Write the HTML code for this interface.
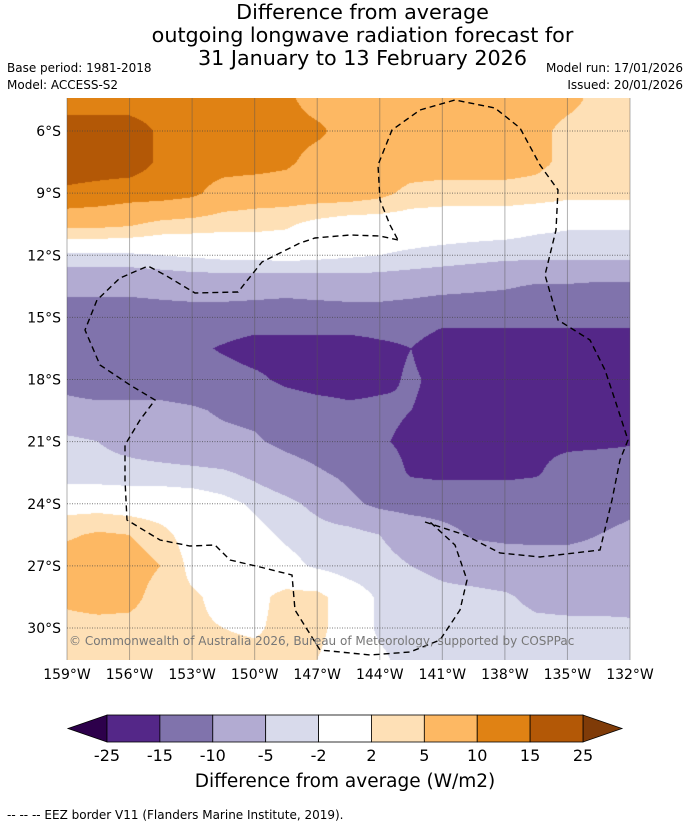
<!DOCTYPE html>
<html><head><meta charset="utf-8">
<style>
body{margin:0;background:#fff;width:690px;height:827px;position:relative;overflow:hidden;font-family:"DejaVu Sans","Liberation Sans",sans-serif;color:#000}
.t{position:absolute;white-space:nowrap}
</style></head><body>
<div class="t" style="left:0;width:725px;top:1px;text-align:center;font-size:20.7px;line-height:23px">Difference from average<br>outgoing longwave radiation forecast for<br>31 January to 13 February 2026</div>
<div class="t" style="left:7px;top:61px;font-size:12px">Base period: 1981-2018</div>
<div class="t" style="left:7px;top:78px;font-size:12px">Model: ACCESS-S2</div>
<div class="t" style="right:7px;top:61px;font-size:12px;text-align:right">Model run: 17/01/2026</div>
<div class="t" style="right:7px;top:78px;font-size:12px;text-align:right">Issued: 20/01/2026</div>
<canvas id="map" width="563" height="562" style="position:absolute;left:67px;top:98px"></canvas>
<svg id="ov" width="690" height="827" style="position:absolute;left:0;top:0"></svg>
<div class="t" style="left:69px;top:634px;font-size:12px;color:#777">© Commonwealth of Australia 2026, Bureau of Meteorology, supported by COSPPac</div>
<div class="t" style="left:0;width:690px;top:771px;text-align:center;font-size:18.5px">Difference from average (W/m2)</div>
<div class="t" style="left:7px;top:808px;font-size:12px">--  --  -- EEZ border V11 (Flanders Marine Institute, 2019).</div>
<script>
const lons=[-159,-157.5,-156,-154.5,-153,-151.5,-150,-148.5,-147,-145.5,-144,-142.5,-141,-139.5,-138,-136.5,-135,-133.5,-132];
const lats=[4.5,6,7.5,9,10.5,12,13.5,15,16.5,18,19.5,21,22.5,24,25.5,27,28.5,30,31.5];
const grid=[
[12,12,12,12,12,12,12,11,8,7,7,7,7,7,7,7,6,4,3.5],
[18,18,18,14,12,12,12,12,11,8,7,7,7,7,7,6,4,3.5,3.5],
[18,18,18,14,12,12,12,11,8,7,7,7,7,7,7,6,4,3.5,3.5],
[14,13,12,12,11,8,7,7,7,7,6,4,3.5,3.5,3.5,3.5,3,3,3],
[6,6,5.5,4,3.5,3,3,2.5,1,0,0,0,0,0,0,-1,-1.5,-1.5,-1.5],
[-2.5,-2.5,-2.5,-2,-1.5,-1,-1,-0.5,-1,-1.5,-2,-2.5,-3,-3.5,-4,-4,-4,-4,-4],
[-9,-9,-9,-8.5,-8,-8,-8,-8.5,-8,-7.5,-7.5,-8,-8.5,-9,-9.5,-10.5,-10.5,-11,-11],
[-12,-12,-12,-12,-12,-12,-12.5,-12.5,-12.5,-12.5,-12.5,-13,-14,-14,-14,-14,-14,-14,-14],
[-12,-12,-12,-13,-14,-15.5,-17,-17,-17,-17,-16,-15,-17,-17,-17,-17,-17,-17,-17],
[-11,-12,-12,-12,-12.5,-13,-14,-16,-17,-17,-16,-14.5,-16,-17,-17,-17,-17,-17,-17],
[-9,-9,-9,-9,-9.5,-10.5,-11,-12,-13,-14,-14,-15,-16,-17,-17,-17,-17,-17,-17],
[-4,-5,-6.5,-8,-8.5,-9,-9.5,-11,-12,-13,-14.5,-16,-16,-16,-16,-16,-16,-16,-15.5],
[-3.5,-3.5,-3.5,-3.5,-4,-4.5,-6,-8,-9.5,-11,-12.5,-15.5,-16,-16,-16,-15.5,-13,-12,-12],
[0.5,0.5,0,0,0,-1,-2.5,-4,-6,-9,-11,-12,-12,-12,-12,-12,-12,-12,-11],
[4.5,5.5,5,3,0.5,0,-1,-2.5,-3.5,-3.5,-5,-6.5,-8.5,-10.5,-11,-11,-11,-10,-9],
[7,7,7,5,1,0,0,-1,-2.5,-3.5,-4,-5,-6,-7,-7.5,-8,-8,-8,-8],
[6,7,6.5,3,2.5,1,1,3,3,0,-2.5,-3,-4,-4,-4.5,-6,-6.5,-6.5,-7],
[3.5,3.5,3.5,3,2.5,2,1.5,3,3,0,-2.5,-3,-3,-3.5,-3.5,-4,-4,-4,-4],
[3.5,3.5,3.5,3.5,3,3,3,3,2,0,-1.5,-3,-3,-3.5,-3.5,-3.5,-4,-4,-4]];
const levels=[-25,-15,-10,-5,-2,2,5,10,15,25];
const colors=['#2d004b','#542788','#8073ac','#b2abd2','#d8daeb','#ffffff','#fee0b6','#fdb863','#e08214','#b35806','#7f3b08'];
const levelLabels=['-25','-15','-10','-5','-2','2','5','10','15','25'];
const lonTicks=[-159,-156,-153,-150,-147,-144,-141,-138,-135,-132];
const latTicks=[6,9,12,15,18,21,24,27,30];

const X0=67,X1=630,Y0=98,Y1=660;
const xOf=lon=>X0+(lon+159)*(X1-X0)/27;
const yOf=lat=>131+(lat-6)*(628-131)/24;
const lonOf=x=>-159+(x-X0)*27/(X1-X0);
const latOf=y=>6+(y-131)*24/(628-131);
function hex(c){return [parseInt(c.substr(1,2),16),parseInt(c.substr(3,2),16),parseInt(c.substr(5,2),16)];}
const rgb=colors.map(hex);
function classify(v){let i=0;while(i<levels.length&&v>=levels[i])i++;return i;}
function sample(lon,lat){
  let fi=(lon-lons[0])/(lons[1]-lons[0]), fj=(lat-lats[0])/(lats[1]-lats[0]);
  fi=Math.max(0,Math.min(lons.length-1.0001,fi)); fj=Math.max(0,Math.min(lats.length-1.0001,fj));
  const i=Math.floor(fi),j=Math.floor(fj),a=fi-i,b=fj-j;
  return grid[j][i]*(1-a)*(1-b)+grid[j][i+1]*a*(1-b)+grid[j+1][i]*(1-a)*b+grid[j+1][i+1]*a*b;
}
const cv=document.getElementById('map'),ctx=cv.getContext('2d');
const img=ctx.createImageData(cv.width,cv.height);
for(let py=0;py<cv.height;py++){const lat=latOf(Y0+py+0.5);
 for(let px=0;px<cv.width;px++){const c=rgb[classify(sample(lonOf(X0+px+0.5),lat))];const k=(py*cv.width+px)*4;
  img.data[k]=c[0];img.data[k+1]=c[1];img.data[k+2]=c[2];img.data[k+3]=255;}}
ctx.putImageData(img,0,0);

const NS='http://www.w3.org/2000/svg',sv=document.getElementById('ov');
function mk(tag,at,parent){const e=document.createElementNS(NS,tag);for(const k in at)e.setAttribute(k,at[k]);(parent||sv).appendChild(e);return e;}
const FF='DejaVu Sans, Liberation Sans, sans-serif';
lonTicks.forEach(l=>{
 const ln=mk('line',{x1:xOf(l),x2:xOf(l),y1:Y0,y2:Y1,stroke:'#555','stroke-opacity':0.45,'stroke-width':1});
 
 
 const t=mk('text',{x:xOf(l),y:679,'text-anchor':'middle','font-size':14,'font-family':FF});
 t.textContent=Math.abs(l)+'°W';
 
 
});
latTicks.forEach(l=>{
 const ln=mk('line',{x1:X0,x2:X1,y1:yOf(l),y2:yOf(l),stroke:'#444','stroke-width':1,'stroke-dasharray':'1,1.5','stroke-opacity':0.7});
 
 
 const t=mk('text',{x:61,y:yOf(l)+5,'text-anchor':'end','font-size':14,'font-family':FF});
 t.textContent=l+'°S';
 
 
});
const eez1=mk('path',{d:'M398,240 L380,236 L350,235 L315,238 L300,243 L262,262 L238,292 L195,293 L165,275 L148,266 L120,278 L97,300 L85,330 L100,365 L130,385 L155,400 L140,420 L125,445 L125,480 L127,520 L160,540 L190,546 L215,545 L230,560 L260,567 L292,575 L295,610 L320,650 L370,655 L410,652 L440,640 L460,610 L467,580 L455,545 L430,522',fill:'none',stroke:'#000','stroke-width':1.4,'stroke-dasharray':'6,4'});


const eez2=mk('path',{d:'M425,522 L465,535 L500,553 L540,557 L600,550 L612,500 L620,460 L628,440 L615,400 L605,370 L590,340 L558,320 L545,275 L556,230 L558,190 L540,165 L520,128 L495,108 L455,100 L420,110 L392,130 L378,165 L380,200 L390,225 L398,240',fill:'none',stroke:'#000','stroke-width':1.4,'stroke-dasharray':'6,4'});



const cbL=107,cbR=583,cbT=715,cbB=742,n=levels.length-1,w=(cbR-cbL)/n;
const tl=mk('polygon',{points:`68,${(cbT+cbB)/2} ${cbL},${cbT} ${cbL},${cbB}`,fill:colors[0],stroke:'#000','stroke-width':0.8});


const tr=mk('polygon',{points:`622,${(cbT+cbB)/2} ${cbR},${cbT} ${cbR},${cbB}`,fill:colors[colors.length-1],stroke:'#000','stroke-width':0.8});


for(let i=0;i<n;i++){
 const r=mk('rect',{x:cbL+i*w,y:cbT,width:w,height:cbB-cbT,fill:colors[i+1],stroke:'#000','stroke-width':0.8});
 
 
}
levelLabels.forEach((s,i)=>{
 const t=mk('text',{x:cbL+i*w,y:761,'text-anchor':'middle','font-size':16,'font-family':FF});
 t.textContent=s;
 
 
});
</script>
</body></html>
